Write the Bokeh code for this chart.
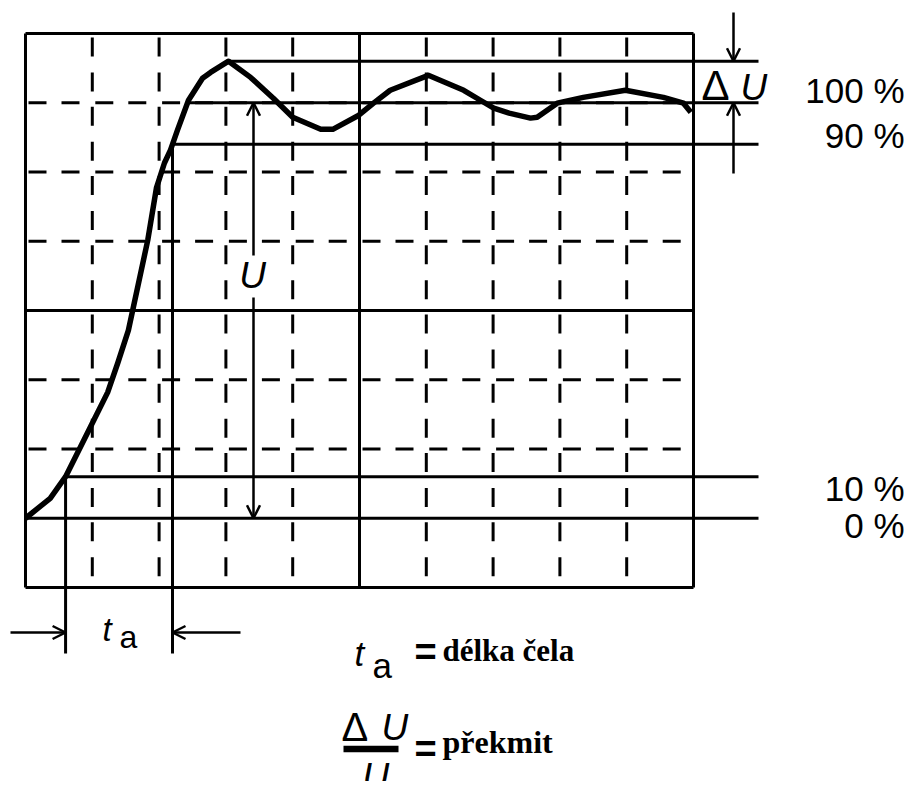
import numpy as np
from bokeh.plotting import figure
from bokeh.models import Range1d, Arrow, OpenHead
from bokeh.embed import file_html
from bokeh.resources import INLINE
from bokeh.core.properties import value

# ---------------- data ----------------
# impulse front: time in screen divisions, voltage in % of U
time_div = [0.0, 0.37, 0.6, 0.97, 1.23, 1.38, 1.54, 1.83, 1.96, 2.08, 2.17, 2.275, 2.44,
            2.65, 2.77, 3.04, 3.37, 3.71, 4.0, 4.42, 4.6, 4.99, 5.21, 5.46, 6.03,
            6.56, 6.81, 7.01, 7.24, 7.56, 7.66, 7.96, 8.35, 8.98, 9.55, 9.85, 9.96]
voltage_pct = [0, 4.8, 10, 21.9, 30.3, 37.3, 45.2, 66.9, 79.5, 85.5, 88.6, 93.4, 100.6,
               105.9, 107.3, 110, 106.1, 101.1, 96.5, 93.6, 93.6, 97.0, 99.9, 103.0, 106.6,
               103.0, 100.6, 98.7, 97.5, 96.3, 96.5, 99.9, 101.3, 103.0, 101.3, 99.9, 97.7]

n_cols = 10
n_rows = 8
grid_cols_dashed = [1, 2, 3, 4, 6, 7, 8, 9]
grid_cols_solid = [0, 5, 10]
grid_rows_dashed = [2, 3, 5, 6, 7]
grid_rows_solid = [0, 4, 8]

level_pct = [0, 10, 90, 100, 110]          # 0 %, 10 %, 90 %, 100 %, overshoot peak
label_text = ["100 %", "90 %", "10 %", "0 %"]

ZERO_ROW = 1.0            # 0 % sits on the first grid row
DIV_PER_PCT = 6.0 / 100   # 100 % = 6 divisions

def to_div(p):
    return ZERO_ROW + np.asarray(p, dtype=float) * DIV_PER_PCT

# ---------------- layout helpers (page pixels -> divisions) ----------------
SX, SY = 66.8, 69.25
OX, OY = 25.0, 587.0
ORG = 0
def X(px):
    return (px - OX) / SX
def Y(py):
    return (OY - py) / SY

W, H = 905, 781
p = figure(width=W, height=H, output_backend="svg", toolbar_location=None,
           x_range=Range1d(X(ORG), X(ORG + W)), y_range=Range1d(Y(ORG + H), Y(ORG)),
           x_axis_location=None, y_axis_location=None, min_border=0,
           outline_line_color=None, background_fill_color="white",
           border_fill_color="white")
p.grid.visible = False

K = "black"

# ---------------- grid ----------------
vx0, vy0, vx1, vy1 = [], [], [], []
for c in grid_cols_dashed:
    for r in range(n_rows):
        vx0.append(c); vy0.append(r + 1); vx1.append(c); vy1.append(r)
p.segment(vx0, vy0, vx1, vy1, line_color=K, line_width=3,
          line_dash="19 16", line_dash_offset=31)

hx0, hy0, hx1, hy1 = [], [], [], []
for r in grid_rows_dashed:
    for c in range(n_cols):
        hx0.append(c); hy0.append(r); hx1.append(c + 1); hy1.append(r)
p.segment(hx0, hy0, hx1, hy1, line_color=K, line_width=3,
          line_dash="18 15", line_dash_offset=30)

p.segment(grid_cols_solid, [0] * len(grid_cols_solid), grid_cols_solid,
          [n_rows] * len(grid_cols_solid), line_color=K, line_width=3)
p.segment([0] * len(grid_rows_solid), grid_rows_solid, [n_cols] * len(grid_rows_solid),
          grid_rows_solid, line_color=K, line_width=3)

# ---------------- level lines ----------------
t = np.asarray(time_div)
u = np.asarray(voltage_pct, dtype=float)
imax = int(np.argmax(u))
def x_at(level):
    return float(np.interp(level, u[:imax + 1], t[:imax + 1]))

line_end = X(758)
lx0 = [0.0 if lv == 0 else x_at(lv) for lv in level_pct]
ly = list(to_div(level_pct))
p.segment(lx0, ly, [line_end] * len(ly), ly, line_color=K, line_width=3)

# t_a verticals
ta_bottom = Y(653)
ta_x = [x_at(10), x_at(90)]
p.segment(ta_x, list(to_div([10, 90])), ta_x, [ta_bottom, ta_bottom],
          line_color=K, line_width=3)

# ---------------- curve ----------------
p.line(t, to_div(u), line_color=K, line_width=5.5, line_join="round")

# ---------------- arrows ----------------
def arrow(x0, y0, x1, y1):
    p.add_layout(Arrow(x_start=x0, y_start=y0, x_end=x1, y_end=y1,
                       line_color=K, line_width=2.5,
                       end=OpenHead(size=13, line_width=2.5, line_color=K)))

u_x = X(253)
arrow(u_x, Y(255), u_x, float(to_div(100)))
arrow(u_x, Y(297), u_x, float(to_div(0)))

du_x = X(733)
arrow(du_x, Y(12), du_x, float(to_div(110)))
arrow(du_x, Y(173), du_x, float(to_div(100)))

ta_y = Y(632)
arrow(X(10), ta_y, ta_x[0], ta_y)
arrow(X(240), ta_y, ta_x[1], ta_y)

# ---------------- texts ----------------
SANS = value("Liberation Sans")
SERIF = value("Liberation Serif")
MID = {"sans": 0.3465, "serif": 0.3375}

def txt(x_px, base_px, s, size, serif=False, style="normal", align="left"):
    k = MID["serif"] if serif else MID["sans"]
    p.text(x=[X(x_px)], y=[Y(base_px - k * size)], text=[s],
           text_font=SERIF if serif else SANS, text_font_size=value(f"{size}px"),
           text_font_style=style, text_align=align, text_baseline="middle",
           text_color=K)

# percent labels
for s, by in zip(label_text, [102, 147, 500, 537]):
    txt(904, by, s, 35, align="right")

# delta U near arrows
txt(701, 100, "Δ", 42)
txt(740, 100, "U", 37, style="italic")

# U inside grid
txt(252, 288, "U", 37, style="italic", align="center")

# t_a under chart
txt(102, 640, "t", 33, style="italic")
txt(119, 648, "a", 32)

# legend lines
txt(354, 665, "t", 35, style="italic")
txt(372, 677, "a", 35)
txt(414, 665, "=", 38, style="bold")
txt(442, 660, "délka čela", 31, serif=True, style="bold")

txt(341, 740, "Δ", 40)
txt(381, 740, "U", 37, style="italic")
p.segment([X(343)], [Y(748.5)], [X(398)], [Y(748.5)], line_color=K, line_width=6.5)
txt(362, 789, "U", 37, style="italic")
txt(414, 762, "=", 38, style="bold")
txt(442, 752, "překmit", 32, serif=True, style="bold")

open("out.html", "w").write(file_html(p, INLINE))
